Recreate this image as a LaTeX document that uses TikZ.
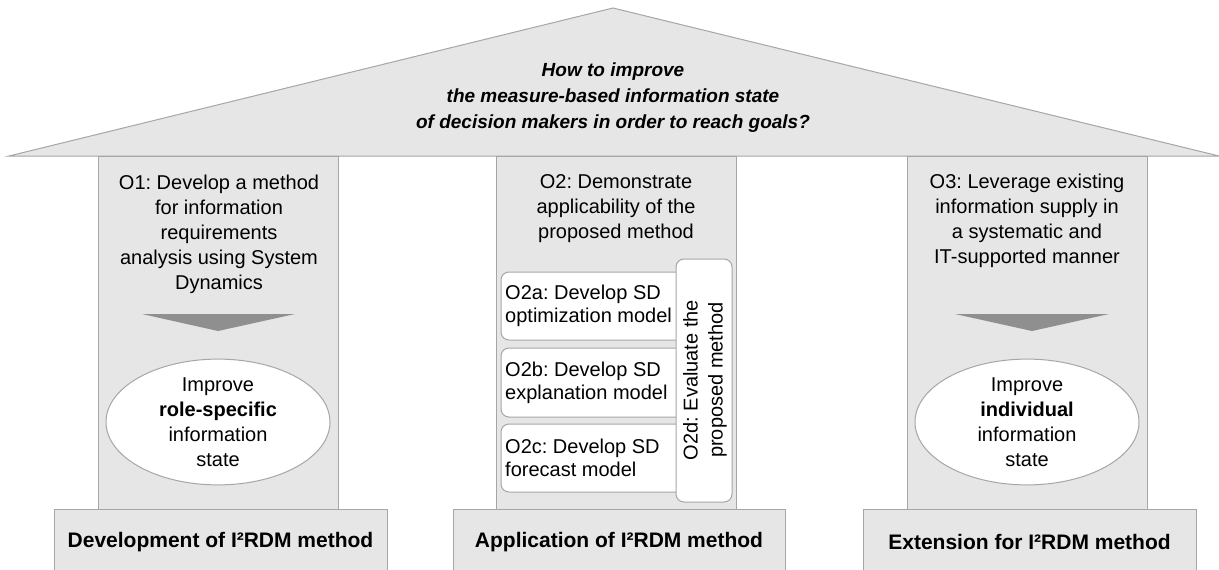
\documentclass[tikz,border=0pt]{standalone}
\usepackage{fontspec}
\setmainfont{Liberation Sans}
\usetikzlibrary{shapes.geometric}
\definecolor{pfill}{HTML}{E6E6E6}
\definecolor{pline}{HTML}{A6A6A6}
\definecolor{arrowgray}{HTML}{8F8F8F}
\frenchspacing
\begin{document}
\begin{tikzpicture}[x=1pt,y=-1pt,
  partbox/.style={fill=pfill,draw=pline,line width=1pt},
  subbox/.style={fill=white,draw=pline,line width=1pt,rounded corners=8pt},
  downarrow/.style={fill=arrowgray},
  txt/.style={inner sep=0pt,align=center,font=\fontsize{20}{25}\selectfont},
  subtxt/.style={inner sep=0pt,align=left,font=\fontsize{20}{23}\selectfont},
  basetxt/.style={inner sep=0pt,font=\fontsize{21}{25}\selectfont\bfseries},
  goal/.style={ellipse,fill=white,draw=pline,line width=1pt,minimum width=224pt,minimum height=119pt,inner sep=0pt,align=center,font=\fontsize{20}{25}\selectfont}]
\useasboundingbox (0,0) rectangle (1219,570);
% roof
\path[partbox] (9,156) -- (613,8) -- (1219,156) -- cycle;
\node[inner sep=0pt,align=center,font=\fontsize{19}{26}\selectfont\bfseries\itshape] (question) at (613,98)
  {How to improve\\the measure-based information state\\of decision makers in order to reach goals?};
% pillars
\path[partbox] (98,156) rectangle (338,509);
\path[partbox] (496,156) rectangle (736,509);
\path[partbox] (907,156) rectangle (1147,509);
% bases
\path[partbox] (54,509) rectangle (387,580);
\path[partbox] (453,509) rectangle (785,580);
\path[partbox] (863,509) rectangle (1196,580);
\node[basetxt] (b1) at (220.5,542) {Development of I²RDM method};
\node[basetxt] (b2) at (619,542) {Application of I²RDM method};
\node[basetxt] (b3) at (1029.5,542) {Extension for I²RDM method};
% pillar 1
\node[txt] (o1) at (219,234) {O1: Develop a method\\for information\\requirements\\analysis using System\\Dynamics};
\path[downarrow] (142,314) -- (295,314) -- (218,331) -- cycle;
\node[goal] (g1) at (218,422) {Improve\\\textbf{role-specific}\\information\\state};
% pillar 2
\node[txt] (o2) at (616,209) {O2: Demonstrate\\applicability of the\\proposed method};
\path[subbox] (501,272) rectangle (700,340);
\path[subbox] (501,348) rectangle (700,417);
\path[subbox] (501,424) rectangle (700,492);
\node[subtxt,anchor=west] (o2a) at (505,306) {O2a: Develop SD\\optimization model};
\node[subtxt,anchor=west] (o2b) at (505,382.5) {O2b: Develop SD\\explanation model};
\node[subtxt,anchor=west] (o2c) at (505,458) {O2c: Develop SD\\forecast model};
\path[subbox] (676,259) rectangle (732,502);
\node[txt,rotate=90] (o2d) at (705,380) {O2d: Evaluate the\\proposed method};
% pillar 3
\node[txt] (o3) at (1027,220.5) {O3: Leverage existing\\information supply in\\a systematic and\\IT-supported manner};
\path[downarrow] (955,314) -- (1109,314) -- (1032,331) -- cycle;
\node[goal] (g3) at (1027,422) {Improve\\\textbf{individual}\\information\\state};
\end{tikzpicture}
\end{document}
